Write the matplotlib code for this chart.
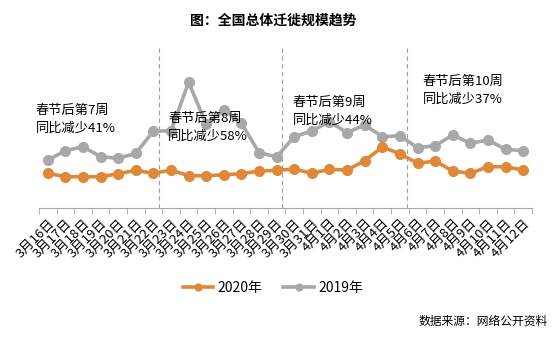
import matplotlib.pyplot as plt
from matplotlib.ticker import FixedLocator

plt.rcParams['font.family'] = ['Noto Sans CJK SC', 'DejaVu Sans']

dates = ['3月16日', '3月17日', '3月18日', '3月19日', '3月20日', '3月21日', '3月22日',
         '3月23日', '3月24日', '3月25日', '3月26日', '3月27日', '3月28日', '3月29日',
         '3月30日', '3月31日', '4月1日', '4月2日', '4月3日', '4月4日', '4月5日',
         '4月6日', '4月7日', '4月8日', '4月9日', '4月10日', '4月11日', '4月12日']
y2020 = [34.7, 31.3, 31.3, 31.3, 34.3, 37.7, 34.7, 38, 32.3, 32.3, 33.3, 34.3, 37, 37.7,
         39, 34.7, 38.7, 38, 47.3, 61, 54.3, 44.7, 47, 37, 34.7, 41.3, 41.3, 38]
y2019 = [48, 57.3, 61.3, 51.3, 49.7, 54.7, 77, 77, 125.7, 83.7, 98, 84.7, 55.3, 51.3,
         71.3, 77, 86.3, 75.3, 83, 71.3, 72.3, 60.3, 62.3, 73, 64.7, 68, 58.7, 57.3]
weeks = ['春节后第7周\n同比减少41%', '春节后第8周\n同比减少58%',
         '春节后第9周\n同比减少44%', '春节后第10周\n同比减少37%']

orange = '#E0883A'
gray = '#A8A8A8'

fig = plt.figure(figsize=(5.57, 3.40), dpi=100)
ax = fig.add_axes([0.070, 0.388, 0.885, 0.480])

x = list(range(len(dates)))
ax.plot(x, y2019, color=gray, lw=2.6, marker='o', ms=7, label='2019年', zorder=3)
ax.plot(x, y2020, color=orange, lw=2.6, marker='o', ms=7, label='2020年', zorder=4)

# week separators
for xv in [6.3, 13.3, 20.4]:
    ax.axvline(xv, color='#A0A0A0', lw=0.8, ls=(0, (4, 3)), zorder=1)

# week annotations
ann_pos = [(-0.67, 88.5), (6.83, 81), (13.9, 96.5), (21.3, 117.5)]
for (tx, ty), t in zip(ann_pos, weeks):
    ax.text(tx, ty, t, fontsize=9.5, va='center', ha='left', linespacing=1.5, zorder=5)

ax.set_xlim(-0.5, 27.5)
ax.set_ylim(0, 163)
for s in ['top', 'right', 'left']:
    ax.spines[s].set_visible(False)
ax.spines['bottom'].set_color('#A6A6A6')
ax.set_yticks([])

ax.set_xticks(x)
ax.set_xticklabels(dates, rotation=45, ha='right', va='top', rotation_mode='anchor',
                   fontsize=9.5)
ax.tick_params(axis='x', which='major', length=0, pad=6)
ax.xaxis.set_minor_locator(FixedLocator([i - 0.5 for i in range(len(dates) + 1)]))
ax.tick_params(axis='x', which='minor', length=4, color='#A6A6A6')

handles, labels = ax.get_legend_handles_labels()
fig.legend(handles[::-1], labels[::-1], loc='center', bbox_to_anchor=(0.49, 0.152),
           ncol=2, frameon=False, fontsize=10, handlelength=2.2, markerscale=0.7,
           columnspacing=1.5, handletextpad=0.3)

fig.text(0.49, 0.938, '图：全国总体迁徙规模趋势', ha='center', va='center',
         fontsize=10, fontweight='bold')
fig.text(0.984, 0.055, '数据来源：网络公开资料', ha='right', va='center', fontsize=8.5)

fig.savefig('out.png', dpi=100)
